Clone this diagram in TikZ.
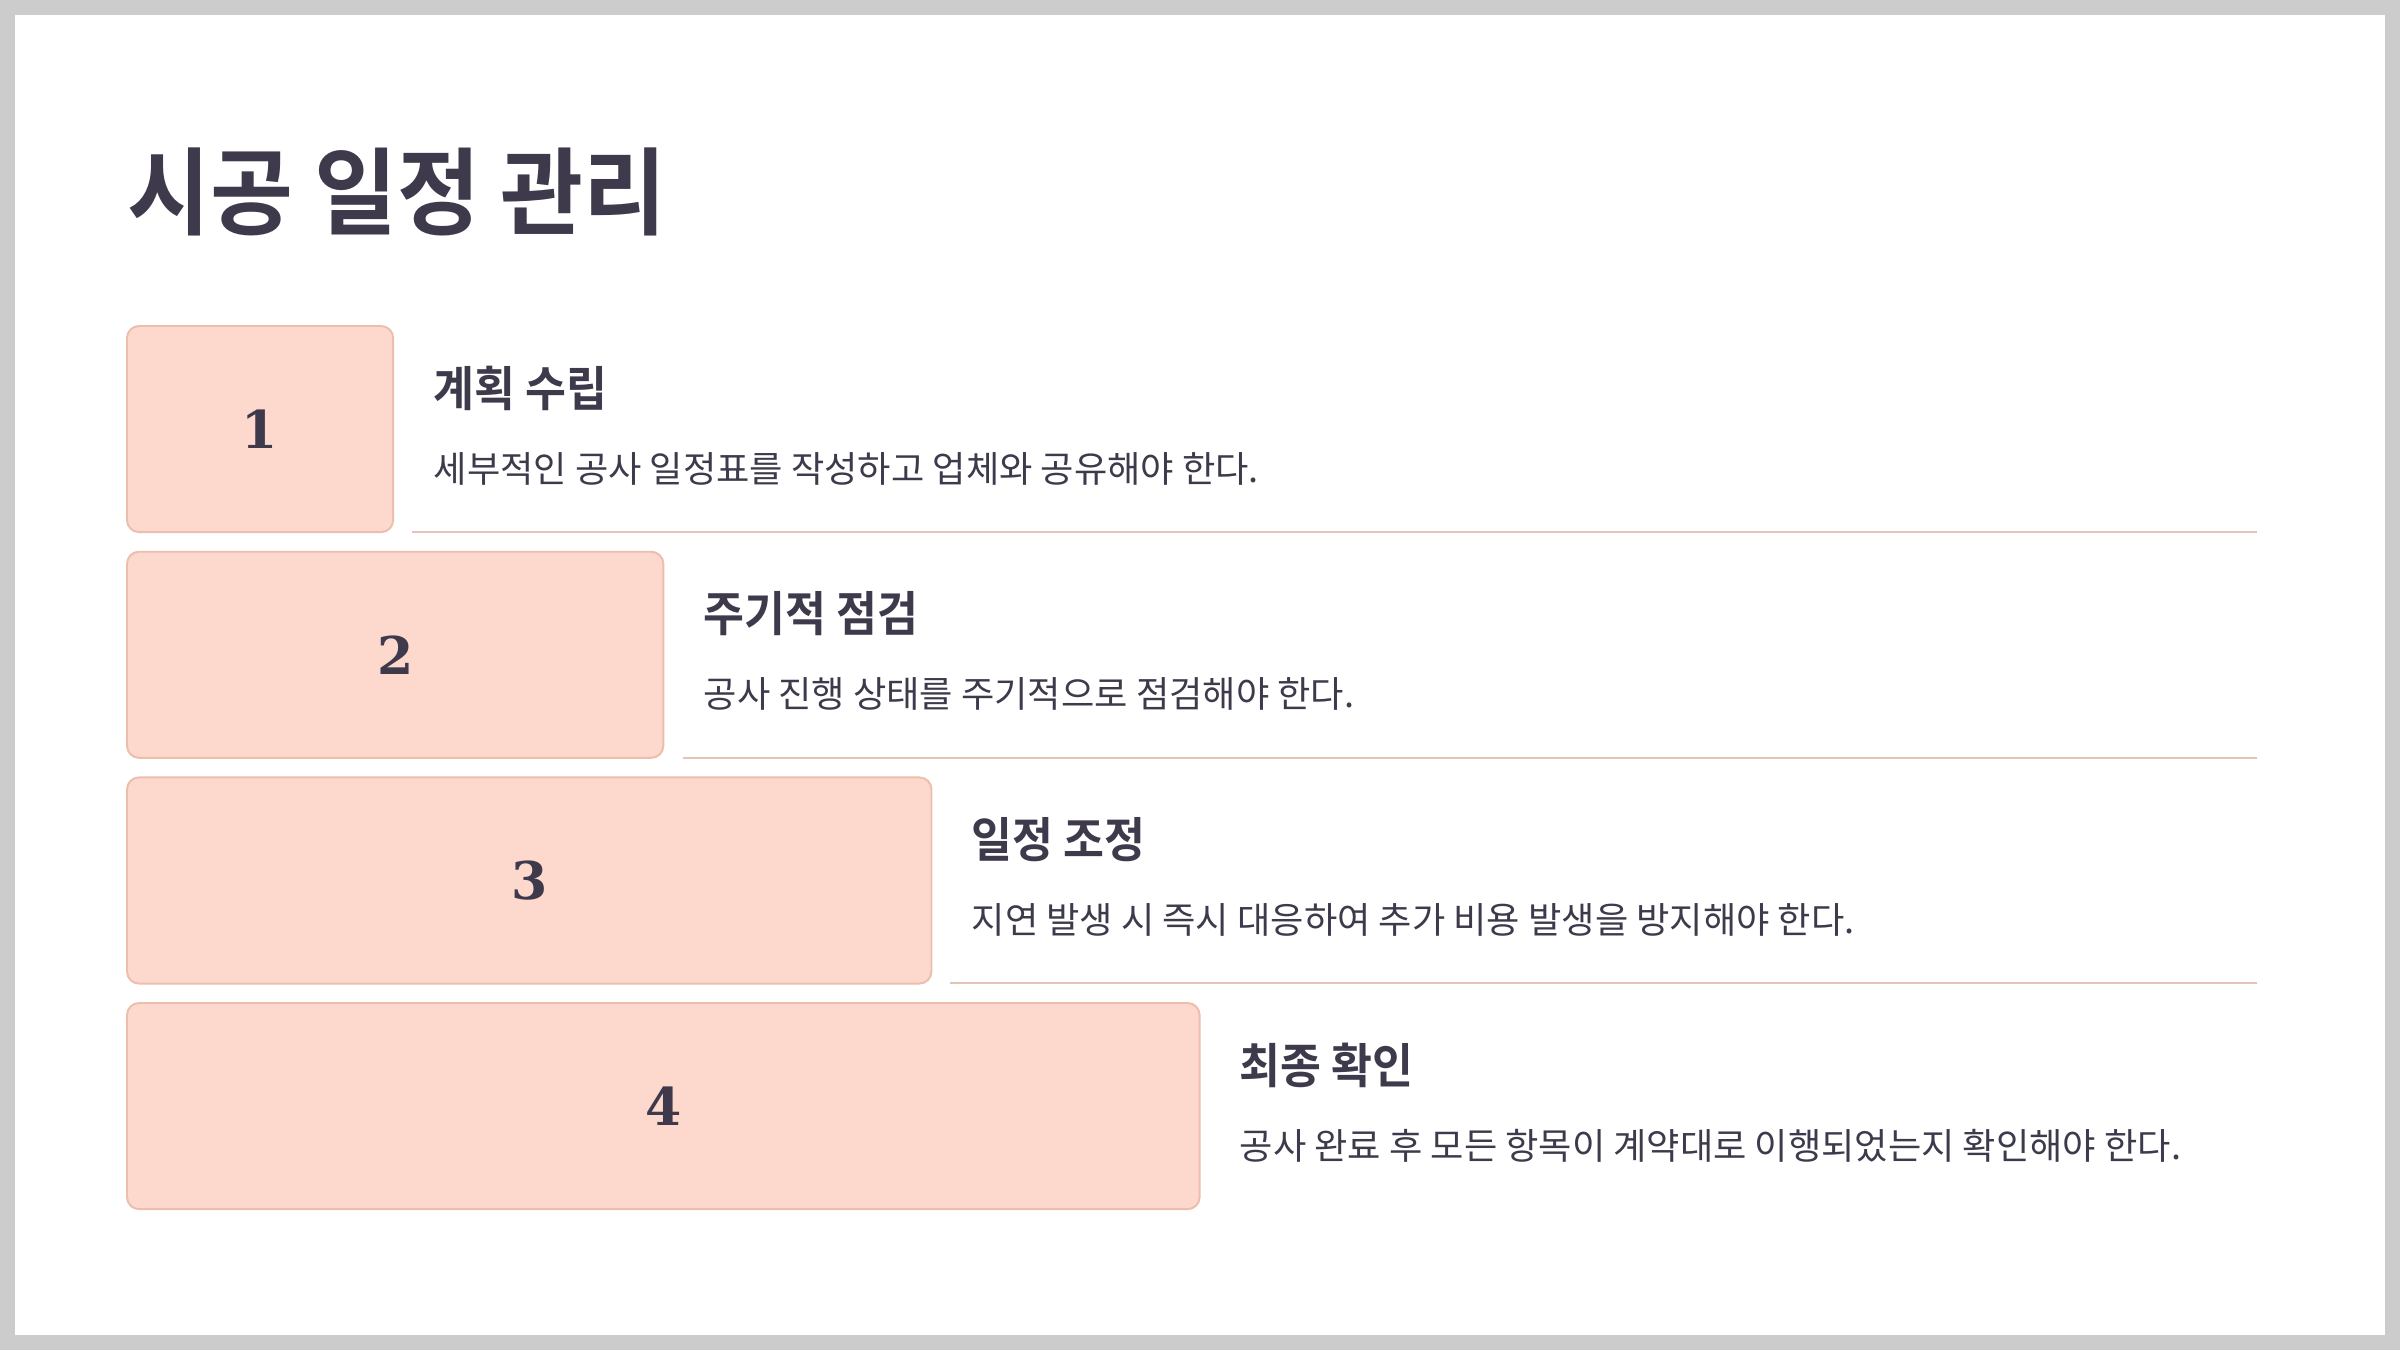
\documentclass[tikz,border=0pt]{standalone}
\usepackage{fontspec}
\newfontfamily\titlefont[FakeStretch=0.95]{Noto Sans CJK KR Bold}
\newfontfamily\headfont[FakeStretch=0.93]{Noto Sans CJK KR Bold}
\newfontfamily\bodyfont{Noto Sans CJK KR}
\newfontfamily\numfont{DejaVu Serif Bold}
\definecolor{ink}{HTML}{3E3A4C}
\definecolor{boxfill}{HTML}{FDD8CC}
\definecolor{boxline}{HTML}{EDBDAD}
\definecolor{rule}{HTML}{E6C3B7}
\definecolor{frame}{HTML}{CCCCCC}
\tikzset{
  stepbox/.style={draw=boxline, fill=boxfill, line width=0.55pt, rounded corners=0.12cm,
    anchor=north west, minimum height=2.06cm, inner sep=0pt, outer sep=0pt,
    text=ink, font=\numfont\fontsize{14.8}{16}\selectfont},
  headtext/.style={anchor=base west, inner sep=0pt, text=ink, font=\headfont\fontsize{13.6}{16}\selectfont},
  desctext/.style={anchor=base west, inner sep=0pt, text=ink, font=\bodyfont\fontsize{10.3}{12}\selectfont},
  titletext/.style={anchor=base west, inner sep=0pt, text=ink, font=\titlefont\fontsize{27}{30}\selectfont},
  rowrule/.style={draw=rule, line width=0.57pt}
}
\begin{document}
\begin{tikzpicture}[x=0.01cm, y=-0.01cm]
\fill[frame] (0,0) rectangle (2400,1350);
\fill[white] (15,15) rectangle (2385,1335);
\useasboundingbox (0,0) rectangle (2400,1350);
\node[titletext] (title) at (127,227) {시공 일정 관리};
% row 1
\node[stepbox, minimum width=2.66cm] (b1) at (127,326) {1};
\node[headtext] (h1) at (433,406) {계획 수립};
\node[desctext] (d1) at (433,482) {세부적인 공사 일정표를 작성하고 업체와 공유해야 한다.};
\coordinate (r1s) at (412,532);
\coordinate (r1e) at (2257,532);
\draw[rowrule] (r1s) -- (r1e);
% row 2
\node[stepbox, minimum width=5.36cm] (b2) at (127,551.7) {2};
\node[headtext] (h2) at (703,631.7) {주기적 점검};
\node[desctext] (d2) at (703,707.7) {공사 진행 상태를 주기적으로 점검해야 한다.};
\coordinate (r2s) at (683,757.7);
\coordinate (r2e) at (2257,757.7);
\draw[rowrule] (r2s) -- (r2e);
% row 3
\node[stepbox, minimum width=8.04cm] (b3) at (127,777.4) {3};
\node[headtext] (h3) at (971,857.4) {일정 조정};
\node[desctext] (d3) at (971,933.4) {지연 발생 시 즉시 대응하여 추가 비용 발생을 방지해야 한다.};
\coordinate (r3s) at (950,983.4);
\coordinate (r3e) at (2257,983.4);
\draw[rowrule] (r3s) -- (r3e);
% row 4
\node[stepbox, minimum width=10.72cm] (b4) at (127,1003) {4};
\node[headtext] (h4) at (1239,1083) {최종 확인};
\node[desctext] (d4) at (1239,1159) {공사 완료 후 모든 항목이 계약대로 이행되었는지 확인해야 한다.};
\end{tikzpicture}
\end{document}
